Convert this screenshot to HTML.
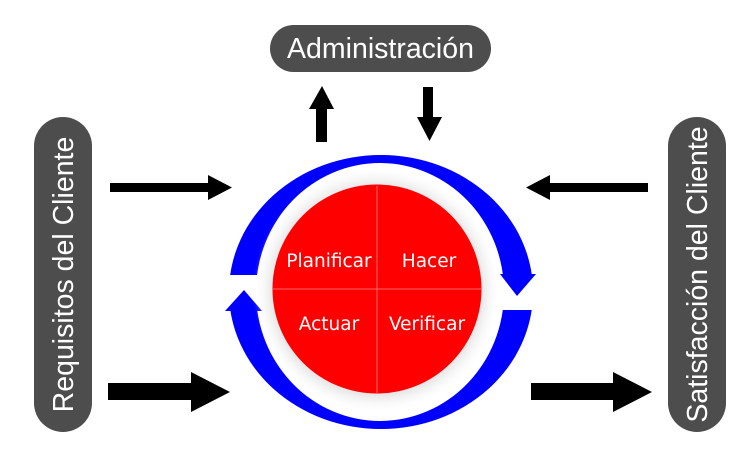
<!DOCTYPE html>
<html><head><meta charset="utf-8"><style>
html,body{margin:0;padding:0;background:#fff;}
body{width:750px;height:464px;overflow:hidden;}
</style></head><body>
<svg width="750" height="464" viewBox="0 0 750 464" xmlns="http://www.w3.org/2000/svg" font-family="Liberation Sans, DejaVu Sans, sans-serif">
<defs>
<radialGradient id="sh" cx="0.5" cy="0.5" r="0.5">
<stop offset="0.75" stop-color="#bbb" stop-opacity="0.9"/>
<stop offset="1" stop-color="#fff" stop-opacity="0"/>
</radialGradient>
<clipPath id="top"><rect x="0" y="0" width="750" height="275"/></clipPath>
<clipPath id="bot"><rect x="0" y="310" width="750" height="200"/></clipPath>
</defs>
<rect x="270" y="25" width="221" height="47" rx="23.5" fill="#4d4d4d"/>
<text x="380.5" y="58" font-size="28.5" fill="#fff" text-anchor="middle">Administración</text>
<rect x="34" y="117" width="58" height="315" rx="29" fill="#4d4d4d"/>
<text transform="translate(73,274.5) rotate(-90)" font-size="28.5" fill="#fff" text-anchor="middle">Requisitos del Cliente</text>
<rect x="668" y="117" width="58" height="315" rx="29" fill="#4d4d4d"/>
<text transform="translate(707,274.5) rotate(-90)" font-size="28.5" fill="#fff" text-anchor="middle">Satisfacción del Cliente</text>
<polygon points="316,142 327,142 327,109 334,109 322,86 309,109 316,109" fill="#000"/>
<polygon points="423,87 433,87 433,117 442,117 429.5,141 417,117 423,117" fill="#000"/>
<polygon points="110,183 208,183 208,175 232,187.5 208,200 208,192 110,192" fill="#000"/>
<polygon points="108,383 191,383 191,372 230,392 191,412 191,400 108,400" fill="#000"/>
<polygon points="648,183 550,183 550,175 526,187.5 550,200 550,192 648,192" fill="#000"/>
<polygon points="531,383 613,383 613,372 652,392 613,412 613,400 531,400" fill="#000"/>
<g fill="#0000ff" fill-rule="evenodd">
<path clip-path="url(#top)" d="M229,292 a152,137 0 1,0 304,0 a152,137 0 1,0 -304,0 Z M256,292 a124,129 0 1,0 248,0 a124,129 0 1,0 -248,0 Z"/>
<path clip-path="url(#bot)" d="M229,292 a152,137 0 1,0 304,0 a152,137 0 1,0 -304,0 Z M256,292 a124,129 0 1,0 248,0 a124,129 0 1,0 -248,0 Z"/>
<polygon points="500,274 536,274 517,296"/>
<polygon points="225,311 262,311 244,290"/>
</g>
<circle cx="377" cy="290" r="124" fill="url(#sh)"/>
<circle cx="377" cy="289" r="104.5" fill="#ff0000"/>
<line x1="377" y1="186" x2="377" y2="393" stroke="#ff6666" stroke-width="1"/>
<line x1="273" y1="289" x2="482" y2="289" stroke="#ff6666" stroke-width="1"/>
<g font-family="DejaVu Sans, Liberation Sans, sans-serif" font-size="18.5" fill="#fff" text-anchor="middle">
<text x="329" y="267">Planificar</text>
<text x="429" y="267">Hacer</text>
<text x="329" y="330">Actuar</text>
<text x="427" y="330">Verificar</text>
</g>
</svg>
</body></html>
